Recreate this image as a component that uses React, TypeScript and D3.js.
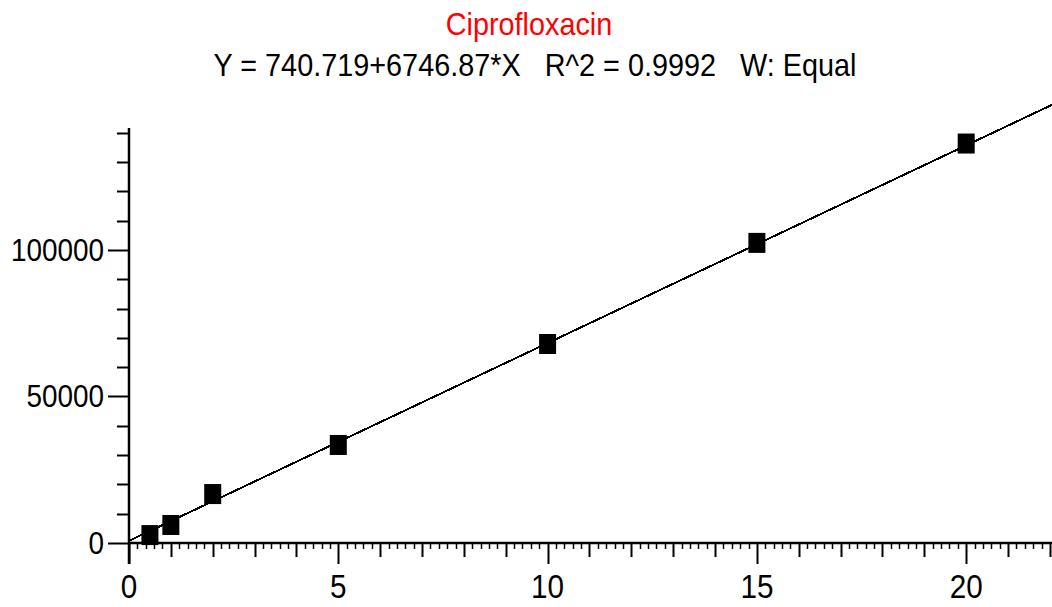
import React, { useEffect, useRef } from "react";
import * as d3 from "d3";

const compoundName = "Ciprofloxacin";
const equationText = "Y = 740.719+6746.87*X   R^2 = 0.9992   W: Equal";
const intercept = 740.719;
const slope = 6746.87;
const concentrations = [0.5, 1, 2, 5, 10, 15, 20];
const areas = [2700, 6150, 16700, 33450, 67900, 102400, 136300];
const xTickLabels = [0, 5, 10, 15, 20];
const yTickLabels = [0, 50000, 100000];

const W = 1052;
const H = 607;
const FONT = "'Liberation Sans', Arial, sans-serif";
const SQUEEZE = 0.9; // the original font is a bit condensed

const App = () => {
  const ref = useRef<SVGSVGElement>(null);

  useEffect(() => {
    draw();
  });

  const draw = () => {
    const svg = d3.select(ref.current);
    svg.selectAll("*").remove();

    const x = d3.scaleLinear().domain([0, 22.05]).range([129, 1052]);
    const y = d3.scaleLinear().domain([0, 141600]).range([543, 128]);

    // condensed text helper
    const label = (tx: number, ty: number, str: string, size: number, anchor: string, color = "#000", sx = SQUEEZE) =>
      svg
        .append("text")
        .attr("transform", `translate(${tx},${ty}) scale(${sx},1)`)
        .attr("text-anchor", anchor)
        .attr("font-family", FONT)
        .attr("font-size", size)
        .attr("fill", color)
        .style("white-space", "pre")
        .text(str);

    label(529, 35, compoundName, 32, "middle", "#ff0000");
    label(535, 76, equationText, 31, "middle", "#000", 0.93);

    const g = svg.append("g").attr("stroke", "#000");

    // x axis line + ticks
    g.append("line")
      .attr("x1", x(0))
      .attr("x2", W)
      .attr("y1", y(0))
      .attr("y2", y(0))
      .attr("stroke-width", 2.5);
    const minorX = d3.range(0, 111).map((i) => i / 5).filter((v) => x(v) <= W);
    minorX.forEach((v, i) => {
      const len = i % 25 === 0 ? 21 : i % 5 === 0 ? 14 : 6;
      g.append("line")
        .attr("x1", Math.round(x(v)) + 0.5)
        .attr("x2", Math.round(x(v)) + 0.5)
        .attr("y1", y(0))
        .attr("y2", y(0) + len)
        .attr("stroke-width", i % 5 === 0 ? 2 : 1.5);
    });

    // y axis line + ticks
    g.append("line")
      .attr("x1", x(0))
      .attr("x2", x(0))
      .attr("y1", y(0) + 21)
      .attr("y2", 128)
      .attr("stroke-width", 2.5);
    d3.range(0, 150000, 10000)
      .filter((v) => y(v) >= 128)
      .forEach((v) => {
        const major = v % 50000 === 0;
        g.append("line")
          .attr("x1", x(0) - (major ? 21 : 12))
          .attr("x2", x(0))
          .attr("y1", Math.round(y(v)) + 0.5)
          .attr("y2", Math.round(y(v)) + 0.5)
          .attr("stroke-width", 2);
      });

    xTickLabels.forEach((d) => label(x(d), 598, String(d), 33, "middle"));
    yTickLabels.forEach((d) => label(104, y(d) + 11, String(d), 31, "end"));

    // regression line
    const line = d3
      .line<number>()
      .x((d) => x(d))
      .y((d) => y(intercept + slope * d));
    svg
      .append("path")
      .datum([0, 22.05])
      .attr("d", line)
      .attr("fill", "none")
      .attr("stroke", "#000")
      .attr("stroke-width", 2)
      .attr("shape-rendering", "crispEdges");

    // points
    svg
      .selectAll(".pt")
      .data(concentrations)
      .enter()
      .append("rect")
      .attr("x", (d) => x(d) - 8.5)
      .attr("y", (d, i) => y(areas[i]) - 10)
      .attr("width", 17)
      .attr("height", 20)
      .attr("fill", "#000");
  };

  return (
    <svg
      ref={ref}
      width={W}
      height={H}
      style={{ position: "absolute", left: 0, top: 0, background: "#fff" }}
    />
  );
};

export default App;
